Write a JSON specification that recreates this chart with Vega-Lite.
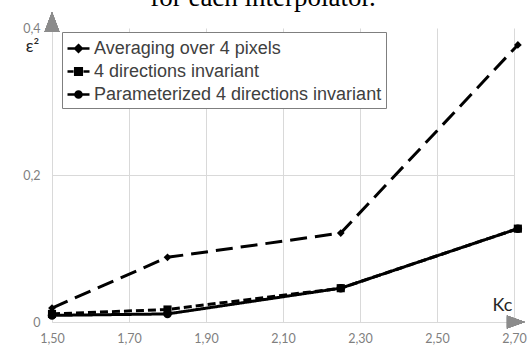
{
  "$schema": "https://vega.github.io/schema/vega-lite/v6.json",
  "width": 462,
  "height": 294,
  "autosize": {"type": "none"},
  "padding": {"left": 52, "top": 28, "right": 18, "bottom": 23},
  "background": "white",
  "config": {
    "locale": {"number": {"decimal": ",", "thousands": ".", "grouping": [3], "currency": ["", " €"]}},
    "view": {"stroke": null},
    "axis": {
      "labelFont": "Lato",
      "labelFontSize": 12.5,
      "labelColor": "#7f7f7f",
      "labelFlush": false,
      "gridColor": "#d9d9d9",
      "gridWidth": 1,
      "domainColor": "#d9d9d9",
      "ticks": false,
      "titleFont": "Lato",
      "titleFontWeight": "normal",
      "titleColor": "#262626"
    }
  },
  "title": {
    "text": "for each interpolator.",
    "font": "Liberation Serif",
    "fontSize": 27,
    "fontWeight": "normal",
    "color": "#000000",
    "anchor": "middle",
    "frame": "group",
    "baseline": "alphabetic",
    "offset": 0,
    "dy": 21,
    "dx": -20
  },
  "data": {
    "values": [
      {"series": "Averaging over 4 pixels", "k": 1.5, "e": 0.019},
      {"series": "Averaging over 4 pixels", "k": 1.8, "e": 0.088},
      {"series": "Averaging over 4 pixels", "k": 2.25, "e": 0.121},
      {"series": "Averaging over 4 pixels", "k": 2.71, "e": 0.377},
      {"series": "4 directions invariant", "k": 1.5, "e": 0.011},
      {"series": "4 directions invariant", "k": 1.8, "e": 0.017},
      {"series": "4 directions invariant", "k": 2.25, "e": 0.046},
      {"series": "4 directions invariant", "k": 2.71, "e": 0.127},
      {"series": "Parameterized 4 directions invariant", "k": 1.5, "e": 0.009},
      {"series": "Parameterized 4 directions invariant", "k": 1.8, "e": 0.011},
      {"series": "Parameterized 4 directions invariant", "k": 2.25, "e": 0.046},
      {"series": "Parameterized 4 directions invariant", "k": 2.71, "e": 0.127}
    ]
  },
  "layer": [
    {
      "mark": {"type": "line", "color": "black", "strokeWidth": 3},
      "encoding": {
        "x": {
          "field": "k",
          "type": "quantitative",
          "scale": {"domain": [1.5, 2.7], "nice": false, "zero": false},
          "axis": {
            "values": [1.5, 1.7, 1.9, 2.1, 2.3, 2.5, 2.7],
            "format": ".2f",
            "labelPadding": 10,
            "title": "Kc",
            "titleFontSize": 18,
            "titleX": 450,
            "titleY": -17,
            "titleAlign": "center",
            "titleBaseline": "middle"
          }
        },
        "y": {
          "field": "e",
          "type": "quantitative",
          "scale": {"domain": [0, 0.4], "nice": false},
          "axis": {
            "values": [0, 0.2, 0.4],
            "format": ".1~f",
            "domain": false,
            "labelPadding": 12,
            "gridOpacity": {"condition": {"test": "datum.value > 0.3", "value": 0}, "value": 1},
            "title": "ε²",
            "titleFontSize": 17,
            "titleAngle": 0,
            "titleX": -20,
            "titleY": 18,
            "titleAlign": "center",
            "titleBaseline": "middle"
          }
        },
        "strokeDash": {
          "field": "series",
          "type": "nominal",
          "scale": {
            "domain": ["Averaging over 4 pixels", "4 directions invariant", "Parameterized 4 directions invariant"],
            "range": [[17, 8], [8, 4], [1, 0]]
          },
          "legend": null
        }
      }
    },
    {
      "mark": {"type": "point", "filled": true, "color": "black", "opacity": 1},
      "encoding": {
        "x": {"field": "k", "type": "quantitative"},
        "y": {"field": "e", "type": "quantitative"},
        "shape": {
          "field": "series",
          "type": "nominal",
          "scale": {
            "domain": ["Averaging over 4 pixels", "4 directions invariant", "Parameterized 4 directions invariant"],
            "range": ["diamond", "square", "circle"]
          },
          "legend": null
        },
        "size": {
          "field": "series",
          "type": "ordinal",
          "scale": {
            "domain": ["Averaging over 4 pixels", "4 directions invariant", "Parameterized 4 directions invariant"],
            "range": [60, 72, 50]
          },
          "legend": null
        }
      }
    },
    {
      "transform": [{"filter": "false"}],
      "mark": {"type": "point", "filled": false, "color": "black", "strokeWidth": 2.5, "opacity": 1},
      "encoding": {
        "x": {"field": "k", "type": "quantitative"},
        "y": {"field": "e", "type": "quantitative"},
        "shape": {
          "field": "series",
          "type": "nominal",
          "scale": {
            "domain": ["Averaging over 4 pixels", "4 directions invariant", "Parameterized 4 directions invariant"],
            "range": [
              "M-1,0H1M0,-0.3L0.3,0L0,0.3L-0.3,0ZM0,-0.1L0.1,0L0,0.1L-0.1,0Z",
              "M-1,0H-0.45M0.45,0H1M-0.3,-0.3H0.3V0.3H-0.3ZM-0.1,-0.1H0.1V0.1H-0.1Z",
              "M-1,0H1M-0.28,0A0.28,0.28 0 1,1 0.28,0A0.28,0.28 0 1,1 -0.28,0ZM-0.08,0A0.08,0.08 0 1,1 0.08,0A0.08,0.08 0 1,1 -0.08,0Z"
            ]
          },
          "legend": {
            "title": null,
            "orient": "none",
            "legendX": 10,
            "legendY": 4,
            "padding": 4,
            "strokeColor": "#7f7f7f",
            "fillColor": "white",
            "labelFont": "Liberation Sans",
            "labelFontSize": 18,
            "labelColor": "#404040",
            "labelLimit": 400,
            "labelOffset": 3,
            "rowPadding": 1,
            "symbolSize": 484,
            "symbolStrokeColor": "black",
            "symbolStrokeWidth": 2.5
          }
        }
      }
    },
    {
      "mark": {"type": "point", "shape": "M0,-1L0.75,1L-0.75,1Z", "filled": true, "color": "#8c8c8c", "size": 400, "opacity": 1},
      "encoding": {"x": {"datum": 1.5}, "y": {"datum": 0.408}}
    },
    {
      "mark": {"type": "point", "shape": "M1,0L-1,0.72L-1,-0.72Z", "filled": true, "color": "#8c8c8c", "size": 324, "opacity": 1},
      "encoding": {"x": {"datum": 2.705}, "y": {"datum": 0}}
    }
  ],
  "resolve": {"scale": {"shape": "independent"}}
}
